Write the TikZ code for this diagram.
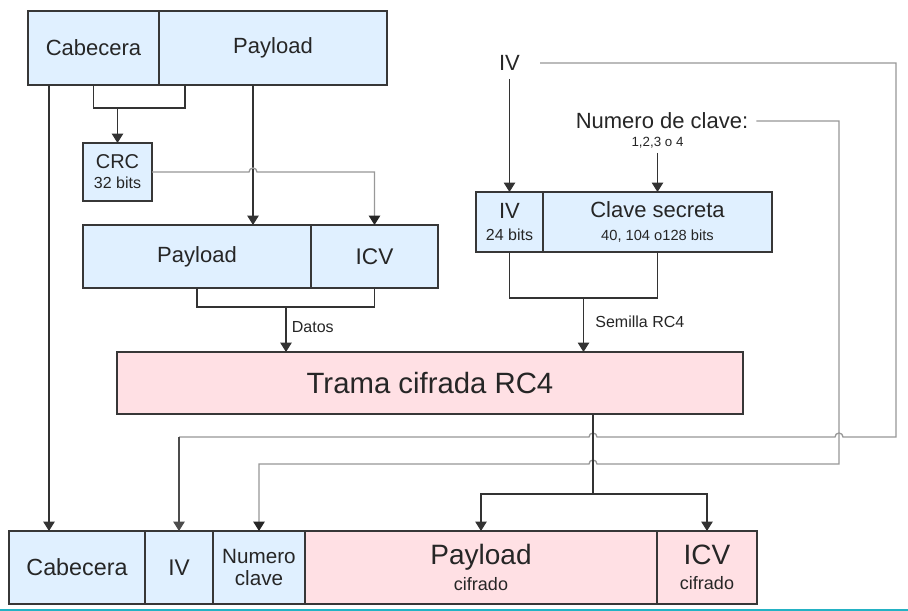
\documentclass[tikz,border=0pt]{standalone}
\usepackage{fontspec}
\setmainfont{Liberation Sans}
\usetikzlibrary{positioning,arrows.meta}
\definecolor{cellblue}{RGB}{224,240,255}
\definecolor{cellpink}{RGB}{255,224,228}
\definecolor{wiregray}{RGB}{152,152,152}
\definecolor{edgegray}{RGB}{55,55,55}
\definecolor{bartl}{RGB}{35,178,196}

\begin{document}
\begin{tikzpicture}[
    x=0.75pt, y=-0.75pt,
    cell/.style={rectangle, draw=edgegray, line width=0.9pt, outer sep=0pt, inner sep=1pt, align=center, text=black!85, font=\fontsize{16.5}{18}\selectfont},
    bcell/.style={cell, fill=cellblue},
    pcell/.style={cell, fill=cellpink},
    lbl/.style={inner sep=1pt, text=black!85, font=\fontsize{16.5}{18}\selectfont},
    arrow/.style={-{Triangle[length=7pt, width=8.5pt]}, line width=0.8pt, draw=black!80},
    wire/.style={line width=0.8pt, draw=black!80},
    gwire/.style={-{Triangle[length=7pt, width=8.5pt, color=black!85]}, line width=1pt, draw=wiregray},
    arrlab/.style={font=\fontsize{12}{14}\selectfont, inner sep=1pt, text=black!85},
]
    \fill[white] (0,0) rectangle (908,611);
    \useasboundingbox (0,0) rectangle (908,611);

    % --- Row 0: trama en claro ---
    \node[bcell, minimum width=98.25pt, minimum height=55.5pt] (cab1) at (93.5,48) {Cabecera};
    \node[bcell, minimum width=171pt, minimum height=55.5pt, right=0pt of cab1] (pay1) {Payload};

    % --- Row 1: CRC ---
    \node[bcell, minimum width=51.75pt, minimum height=43.5pt, font=\fontsize{15}{17}\selectfont] (crc) at (117.5,172)
        {CRC\\[-2pt]{\fontsize{12}{13}\selectfont 32 bits}};

    % --- Row 2: Payload + ICV ---
    \node[bcell, minimum width=171pt, minimum height=47.25pt] (pay2) at (197,256.5) {Payload};
    \node[bcell, minimum width=95.25pt, minimum height=47.25pt, right=0pt of pay2, font=\fontsize{17}{18}\selectfont] (icv2) {ICV};

    % --- IV + clave secreta ---
    \node[lbl] (ivtxt) at (509.5,63) {IV};
    \node[lbl] (numtxt) at (662,121) {Numero de clave:};
    \node[lbl, font=\fontsize{10}{11}\selectfont] (numsub) at (657.5,143) {1,2,3 o 4};
    \node[bcell, minimum width=50.25pt, minimum height=45pt] (iv2) at (509.5,222)
        {IV\\[-1pt]{\fontsize{12}{13}\selectfont 24 bits}};
    \node[bcell, minimum width=171.75pt, minimum height=45pt, right=0pt of iv2] (key)
        {Clave secreta\\[-1pt]{\fontsize{11}{12}\selectfont 40, 104 o128 bits}};

    % --- Row 3: RC4 ---
    \node[pcell, minimum width=469.5pt, minimum height=46.5pt, font=\fontsize{22}{24}\selectfont] (trama) at (430,383) {Trama cifrada RC4};

    % --- Row 4: trama cifrada ---
    \node[bcell, minimum width=102pt, minimum height=54.75pt, font=\fontsize{17.5}{19}\selectfont] (cab3) at (77,567.5) {Cabecera};
    \node[bcell, minimum width=51pt, minimum height=54.75pt, right=0pt of cab3, font=\fontsize{17}{19}\selectfont] (iv3) {IV};
    \node[bcell, minimum width=69pt, minimum height=54.75pt, right=0pt of iv3, font=\fontsize{15.5}{16.5}\selectfont] (num3) {Numero\\clave};
    \node[pcell, minimum width=264pt, minimum height=54.75pt, right=0pt of num3, font=\fontsize{21}{19}\selectfont] (pay3)
        {Payload\\{\fontsize{13.5}{14}\selectfont cifrado}};
    \node[pcell, minimum width=75pt, minimum height=54.75pt, right=0pt of pay3, font=\fontsize{21}{19}\selectfont] (icv3)
        {ICV\\{\fontsize{13.5}{14}\selectfont cifrado}};

    % --- helper points ---
    \coordinate (cl) at (49,85);
    \coordinate (pl) at (253,85);
    \coordinate (b1) at (117.5,108);
    \coordinate (b2) at (185,85);
    \coordinate (datos) at (286,307);
    \coordinate (sem) at (583.5,298);
    \coordinate (r2) at (896,437);
    \coordinate (r3) at (839,464);
    \coordinate (t1) at (593,494);

    % --- Arrows ---
    \draw[arrow] (cl) -- (cl |- cab3.north);
    \draw[wire] (cab1.south) -- (cab1.south |- b1) -| (b2);
    \draw[arrow] (b1) -- (crc.north);
    \draw[arrow] (pl) -- (pl |- pay2.north);
    \draw[gwire] (crc.east) -- (249,172) arc[start angle=180, end angle=0, radius=3pt]
        -- (icv2.north |- crc.east) -- (icv2.north);

    \draw[wire] (pay2.south) -- ++(0,19) -| (icv2.south);
    \draw[arrow] (datos) -- (datos |- trama.north)
        node[arrlab, pos=0.44, right, xshift=3pt] {Datos};

    \draw[arrow] ([yshift=-5pt]ivtxt.south) -- (iv2.north);
    \draw[arrow] ([yshift=-2pt]numsub.south) -- (key.north);
    \draw[wire] (iv2.south) -- ++(0,46) -| (key.south);
    \draw[arrow] (sem) -- (sem |- trama.north)
        node[arrlab, pos=0.44, right, xshift=7.5pt] {Semilla RC4};

    % IV y numero de clave hacia la trama cifrada
    \draw[gwire, -] ([xshift=14pt]ivtxt.east) -| (r2) -- (843,437) arc[start angle=0, end angle=180, radius=3pt]
        -- (597,437) arc[start angle=0, end angle=180, radius=3pt] -- (iv3.north |- r2);
    \draw[arrow, draw=black!70] (iv3.north |- r2) -- (iv3.north);
    \draw[gwire] ([xshift=5pt]numtxt.east) -| (r3) -- (597,464) arc[start angle=0, end angle=180, radius=3pt]
        -- (num3.north |- r3) -- (num3.north);

    \draw[wire] (trama.south -| t1) -- (t1);
    \draw[arrow] (t1) -| (pay3.north);
    \draw[arrow] (t1) -| (icv3.north);

    \draw[line width=1.2pt, draw=bartl] (0,610.2) -- (908,610.2);
\end{tikzpicture}
\end{document}
